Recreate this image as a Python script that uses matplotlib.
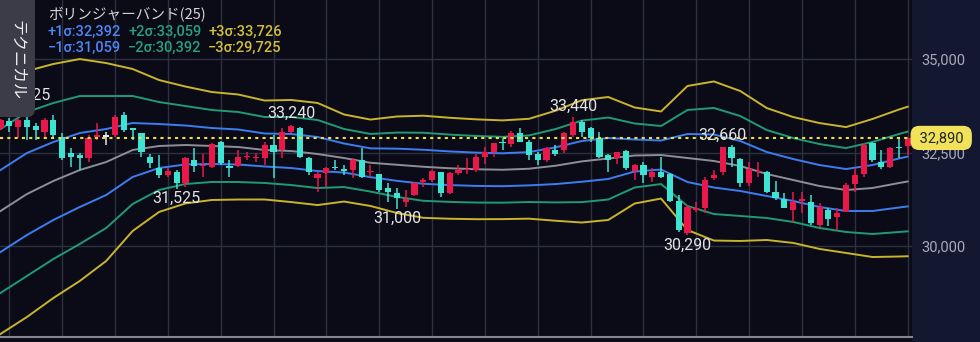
import matplotlib.pyplot as plt
import matplotlib.transforms as mtransforms
from matplotlib.patches import FancyBboxPatch, Rectangle
import numpy as np

plt.rcParams['font.family'] = ['Roboto', 'Noto Sans CJK JP', 'DejaVu Sans']

# ローソク足 (始値, 高値, 安値, 終値)
opens = [33146, 33342, 33190, 33369, 33217, 33057, 33369, 32923, 32477, 32433,
         32344, 32923, 32923, 32968, 33502, 33146, 33012, 32388, 32076, 31898,
         31987, 31675, 32299, 32139, 32121, 32789, 32147, 32147, 32370, 32344,
         32344, 32700, 32566, 33039, 33164, 32344, 31809, 31943, 32121, 32058,
         32032, 32299, 31969, 31925, 31559, 31408, 31185, 31363, 31702, 31764,
         31969, 31408, 31943, 32032, 32032, 32388, 32504, 32789, 32718, 33012,
         32789, 32451, 32299, 32566, 32566, 32968, 33324, 33146, 32878, 32433,
         32344, 32540, 32005, 32165, 31853, 31987, 31916, 31203, 30340, 30962,
         31007, 31809, 31987, 32656, 32326, 31675, 31969, 31987, 31452, 31256,
         30962, 31203, 31167, 30562, 30962, 30784, 30918, 31648, 31916, 32745,
         32254, 32121, 32656, 32683]
highs = [33395, 33413, 33413, 33725, 33279, 33431, 33502, 33012, 32611, 32477,
         32968, 33279, 33057, 33502, 33591, 33146, 33012, 32451, 32433, 32076,
         32032, 32388, 32611, 32451, 32745, 32807, 32299, 32566, 32504, 32477,
         32789, 32968, 33146, 33240, 33190, 32388, 31987, 32121, 32299, 32165,
         32344, 32611, 32165, 31925, 31675, 31541, 31497, 31702, 31809, 32032,
         31987, 31969, 32165, 32344, 32451, 32656, 32760, 32896, 33074, 33146,
         32834, 32522, 32656, 32700, 33057, 33440, 33369, 33190, 33057, 32450,
         32522, 32566, 32183, 32254, 32076, 32388, 31943, 31363, 31096, 31185,
         31853, 32032, 32660, 32700, 32344, 32254, 32254, 32005, 31737, 31408,
         31452, 31452, 31363, 31140, 31007, 31007, 31675, 32076, 32745, 32789,
         32566, 32656, 32878, 32923]
lows = [33101, 33057, 32878, 32834, 32834, 32878, 32923, 32299, 32121, 32032,
        32254, 32834, 32700, 32923, 33057, 32834, 32388, 32076, 31809, 31853,
        31525, 31586, 31987, 31853, 32094, 32165, 31853, 32121, 32299, 32254,
        32165, 31809, 32344, 33012, 32361, 31898, 31452, 31586, 32032, 31898,
        31809, 31809, 31853, 31452, 31185, 31000, 31051, 31345, 31586, 31720,
        31319, 31381, 31898, 31916, 31987, 32183, 32388, 32566, 32656, 32771,
        32299, 32165, 32254, 32415, 32477, 32923, 32923, 32789, 32344, 31969,
        32183, 32032, 31764, 31675, 31702, 31809, 31185, 30383, 30290, 30900,
        30873, 31764, 31898, 32121, 31586, 31613, 31853, 31408, 31230, 31007,
        30650, 30873, 30562, 30517, 30543, 30427, 30900, 31452, 31853, 32254,
        32058, 32094, 32344, 32433]
closes = [33369, 33217, 33369, 33190, 33101, 33369, 32968, 32344, 32388, 32344,
          32878, 32968, 32923, 33458, 33101, 33101, 32522, 32210, 31898, 32005,
          31675, 32344, 32147, 32165, 32718, 32210, 32076, 32388, 32406, 32388,
          32700, 32522, 33039, 33217, 32388, 31987, 31916, 32094, 32076, 32005,
          32299, 31853, 32005, 31497, 31434, 31274, 31256, 31675, 31764, 32005,
          31408, 31943, 32032, 32058, 32388, 32522, 32745, 32745, 33012, 32789,
          32433, 32299, 32629, 32451, 33012, 33324, 33057, 32878, 32388, 32299,
          32504, 32076, 32165, 31898, 31987, 31853, 31203, 30427, 31051, 31024,
          31764, 31898, 32640, 32344, 31675, 32058, 32005, 31452, 31274, 31024,
          31167, 31247, 30606, 31051, 30721, 30873, 31631, 31898, 32700, 32299,
          32121, 32629, 32611, 32890]
doji_idx = [12]

# ボリンジャーバンド(25) 中心線と σ
band_idx = [0, 3, 6, 9, 12, 15, 18, 21, 24, 27, 30, 33, 36, 39, 42, 45, 48, 51,
            54, 57, 60, 63, 66, 69, 72, 75, 78, 81, 84, 87, 90, 93, 96, 99, 102, 103]
band_mid = [30936, 31390, 31738, 32032, 32246, 32567, 32674, 32701, 32674, 32647,
            32567, 32540, 32460, 32353, 32226, 32173, 32119, 32079, 32052, 32039,
            32066, 32146, 32263, 32340, 32420, 32433, 32353, 32273, 32139, 31925,
            31765, 31604, 31497, 31551, 31684, 31725.5]
band_sigma = [1096, 1096, 1043, 989, 882, 722, 588, 521, 481, 468,
              441, 455, 455, 388, 385, 430, 455, 450, 445, 440,
              445, 490, 545, 548, 428, 388, 642, 709, 668, 588,
              561, 561, 561, 615, 655, 666.5]

sigma_names = ['+1σ', '+2σ', '+3σ', '−1σ', '−2σ', '−3σ']
sigma_values = [32392, 33059, 33726, 31059, 30392, 29725]

high_label_idx = [3, 33, 65, 82]
low_label_idx = [20, 45, 78]
current_price = 32890

bg = '#0b0b18'
panel = '#131830'
red = '#e8194a'
cyan = '#3fe3d2'
grid_c = '#2e303e'
line_cols = {1: '#3c7ef0', 2: '#1f9b74', 3: '#c9b52a'}
text_cols = {1: '#4d86f5', 2: '#27a27c', 3: '#d2bf3a'}

fig = plt.figure(figsize=(9.8, 3.42), dpi=100, facecolor=bg)
fig.add_artist(Rectangle((912 / 980, 0), 68 / 980, 1, transform=fig.transFigure,
                         facecolor=panel, edgecolor='none', zorder=-1))
ax = fig.add_axes([0, 5 / 342, 912 / 980, 337 / 342])
ax.set_facecolor(bg)

x = np.arange(len(opens))
o = np.array(opens)
c = np.array(closes)
h = np.array(highs)
l = np.array(lows)
cols = np.where(c >= o, red, cyan).astype(object)
for i in doji_idx:
    cols[i] = '#e6e6e6'

ax.vlines(x, l, h, colors=list(cols), lw=1.1, zorder=3)
ax.bar(x, np.maximum(np.abs(c - o), 40), bottom=np.minimum(o, c), width=0.7,
       color=list(cols), zorder=3)

bx = np.array(band_idx)
bm = np.array(band_mid)
bs = np.array(band_sigma)
ax.plot(bx, bm, color='#8e8e96', lw=1.4, zorder=2)
for k in (1, 2, 3):
    ax.plot(bx, bm + k * bs, color=line_cols[k], lw=1.4, zorder=2)
    ax.plot(bx, bm - k * bs, color=line_cols[k], lw=1.4, zorder=2)

ax.axhline(current_price, color='#ecdc4a', lw=1.5, ls=(0, (1.5, 2)), zorder=4)

for i in high_label_idx:
    ax.annotate(f'{highs[i]:,}', (i, highs[i]), xytext=(0, 8), textcoords='offset points',
                ha='center', va='center', color='#e4e4e4', fontsize=11.5, zorder=5)
for i in low_label_idx:
    ax.annotate(f'{lows[i]:,}', (i, lows[i]), xytext=(0, -7), textcoords='offset points',
                ha='center', va='center', color='#e4e4e4', fontsize=11.5, zorder=5)

ax.set_xlim(-0.057, 103.49)
ax.set_ylim(27567, 36578)
ax.set_xticks(range(1, 104, 6))
ax.yaxis.tick_right()
ax.set_yticks([30000, 32500, 35000])
ax.set_yticklabels(['30,000', '32,500', '35,000'])
ax.tick_params(axis='x', length=0, labelbottom=False)
ax.tick_params(axis='y', length=0, pad=7, labelcolor='#a9aabb', labelsize=10.5)
ax.grid(True, color=grid_c, lw=1)
ax.set_axisbelow(True)
for s in ('top', 'left', 'right'):
    ax.spines[s].set_visible(False)
ax.spines['bottom'].set_color('#85858d')
ax.spines['bottom'].set_linewidth(1.5)

trans = mtransforms.blended_transform_factory(ax.transAxes, ax.transData)
ax.text(1.004, current_price, f'\u00a0{current_price:,}\u00a0', transform=trans,
        ha='left', va='center', color='#222222', fontsize=10.5, clip_on=False, zorder=10,
        family=['DejaVu Sans'] if False else None,
        bbox=dict(boxstyle='round,pad=0.35,rounding_size=0.6', fc='#f2e25a', ec='none'))

# 左上のタブと凡例
fig.add_artist(FancyBboxPatch((-0.2, (342 - 117) / 100), 0.55, 1.5,
                              boxstyle='round,pad=0,rounding_size=0.08',
                              transform=fig.dpi_scale_trans, fc='#3b3c48', ec='none', zorder=5))
fig.text(17 / 980, 1 - 60 / 342, 'テクニカル', rotation=-90, ha='center', va='center',
         color='#f0f0f0', fontsize=11.5, family=['Noto Sans CJK JP'], zorder=6)

fig.text(48 / 980, 1 - 15 / 342, 'ボリンジャーバンド(25)', ha='left', va='center',
         color='#d6d6d6', fontsize=10.5, family=['Noto Sans CJK JP'], zorder=6)
col_x = [48, 128, 208]
for j, (name, val) in enumerate(zip(sigma_names, sigma_values)):
    k = j % 3 + 1
    row_y = 32 if j < 3 else 48
    fig.text(col_x[j % 3] / 980, 1 - row_y / 342, f'{name}:{val:,}', ha='left', va='center',
             color=text_cols[k], fontsize=10.5, fontweight='medium',
             family=['Roboto', 'DejaVu Sans'], zorder=6)

fig.savefig('out.png', dpi=100, facecolor=fig.get_facecolor())
